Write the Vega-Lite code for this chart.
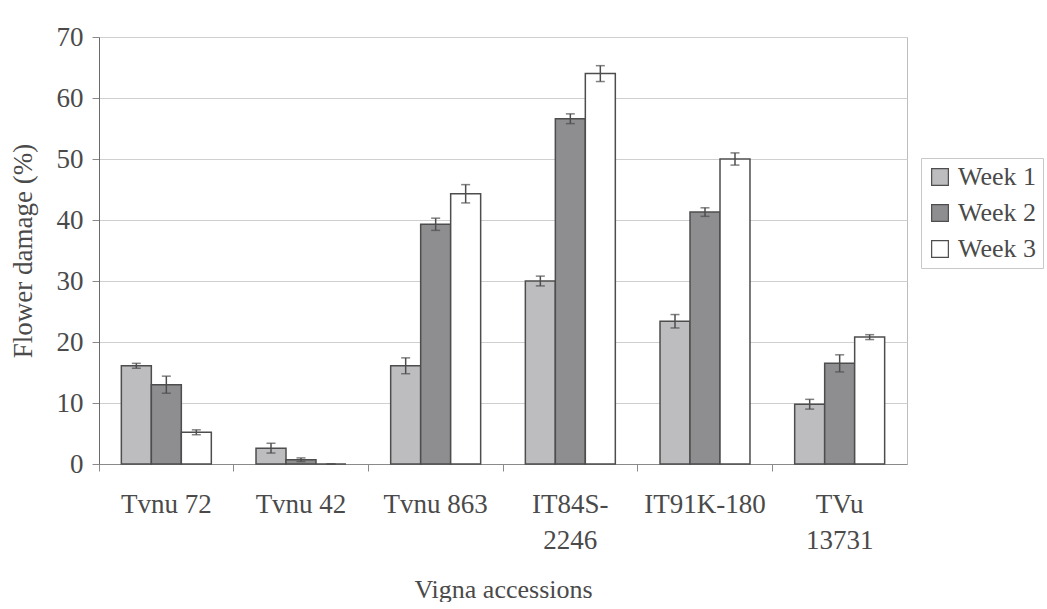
{
  "$schema": "https://vega.github.io/schema/vega-lite/v6.json",
  "width": 808,
  "height": 427,
  "padding": {"left": 9, "top": 23, "right": 2, "bottom": 0},
  "background": "white",
  "config": {
    "font": "Liberation Serif",
    "view": {"stroke": "#bdbdbd", "strokeWidth": 1},
    "axis": {"labelFont": "Liberation Serif", "titleFont": "Liberation Serif", "labelColor": "#4a4a4a", "titleColor": "#4a4a4a", "titleFontWeight": "normal"}
  },
  "data": {
    "values": [
      {"accession": "Tvnu 72", "week": "Week 1", "damage": 16.1, "lo": 15.7, "hi": 16.5},
      {"accession": "Tvnu 72", "week": "Week 2", "damage": 13.0, "lo": 11.6, "hi": 14.4},
      {"accession": "Tvnu 72", "week": "Week 3", "damage": 5.2, "lo": 4.8, "hi": 5.6},
      {"accession": "Tvnu 42", "week": "Week 1", "damage": 2.6, "lo": 1.8, "hi": 3.4},
      {"accession": "Tvnu 42", "week": "Week 2", "damage": 0.7, "lo": 0.4, "hi": 1.0},
      {"accession": "Tvnu 42", "week": "Week 3", "damage": 0.0, "lo": 0.0, "hi": 0.0},
      {"accession": "Tvnu 863", "week": "Week 1", "damage": 16.1, "lo": 14.8, "hi": 17.4},
      {"accession": "Tvnu 863", "week": "Week 2", "damage": 39.3, "lo": 38.3, "hi": 40.3},
      {"accession": "Tvnu 863", "week": "Week 3", "damage": 44.3, "lo": 42.8, "hi": 45.8},
      {"accession": "IT84S-2246", "week": "Week 1", "damage": 30.0, "lo": 29.2, "hi": 30.8},
      {"accession": "IT84S-2246", "week": "Week 2", "damage": 56.6, "lo": 55.8, "hi": 57.4},
      {"accession": "IT84S-2246", "week": "Week 3", "damage": 64.0, "lo": 62.7, "hi": 65.3},
      {"accession": "IT91K-180", "week": "Week 1", "damage": 23.4, "lo": 22.3, "hi": 24.5},
      {"accession": "IT91K-180", "week": "Week 2", "damage": 41.3, "lo": 40.6, "hi": 42.0},
      {"accession": "IT91K-180", "week": "Week 3", "damage": 50.0, "lo": 49.0, "hi": 51.0},
      {"accession": "TVu 13731", "week": "Week 1", "damage": 9.8, "lo": 9.0, "hi": 10.6},
      {"accession": "TVu 13731", "week": "Week 2", "damage": 16.5, "lo": 15.1, "hi": 17.9},
      {"accession": "TVu 13731", "week": "Week 3", "damage": 20.8, "lo": 20.4, "hi": 21.2}
    ]
  },
  "encoding": {
    "x": {
      "field": "accession",
      "type": "nominal",
      "sort": null,
      "scale": {"paddingInner": 0, "paddingOuter": 0},
      "axis": {
        "title": "Vigna accessions",
        "titleFontSize": 26,
        "titlePadding": 23,
        "labelFontSize": 27,
        "labelAngle": 0,
        "labelPadding": 20,
        "labelLineHeight": 36,
        "labelExpr": "datum.label == 'IT84S-2246' ? ['IT84S-', '2246'] : datum.label == 'TVu 13731' ? ['TVu', '13731'] : datum.label",
        "bandPosition": 0,
        "tickSize": 7,
        "tickColor": "#8a8a8a",
        "domainColor": "#8a8a8a",
        "grid": false
      }
    },
    "xOffset": {
      "field": "week",
      "type": "nominal",
      "sort": ["Week 1", "Week 2", "Week 3"],
      "scale": {"paddingInner": 0, "paddingOuter": 0.745}
    }
  },
  "layer": [
    {
      "mark": {"type": "bar", "stroke": "#4d4d4d", "strokeWidth": 1.5},
      "encoding": {
        "y": {
          "field": "damage",
          "type": "quantitative",
          "scale": {"domain": [0, 70], "nice": false},
          "axis": {
            "title": "Flower damage (%)",
            "titleFontSize": 27,
            "titlePadding": 19,
            "labelFontSize": 27,
            "labelPadding": 9,
            "labelOverlap": false,
            "values": [0, 10, 20, 30, 40, 50, 60, 70],
            "tickSize": 7,
            "tickColor": "#8a8a8a",
            "domainColor": "#6a6a6a",
            "gridColor": "#cfcfcf",
            "gridWidth": 1.2
          }
        },
        "fill": {
          "field": "week",
          "type": "nominal",
          "sort": ["Week 1", "Week 2", "Week 3"],
          "scale": {"range": ["#bdbdc0", "#8e8e90", "#ffffff"]},
          "legend": {
            "title": null,
            "orient": "none",
            "legendX": 822,
            "legendY": 121,
            "labelFont": "Liberation Serif",
            "labelFontSize": 26,
            "labelColor": "#4a4a4a",
            "symbolType": "square",
            "symbolSize": 280,
            "symbolStrokeColor": "#4d4d4d",
            "symbolStrokeWidth": 1.2,
            "rowPadding": 10,
            "labelOffset": 5,
            "strokeColor": "#c8c8c8",
            "padding": 6
          }
        }
      }
    },
    {
      "mark": {"type": "rule", "color": "#4d4d4d", "strokeWidth": 1.5},
      "encoding": {
        "y": {"field": "lo", "type": "quantitative"},
        "y2": {"field": "hi"}
      }
    },
    {
      "mark": {"type": "tick", "color": "#4d4d4d", "thickness": 1.5, "size": 9},
      "encoding": {
        "y": {"field": "lo", "type": "quantitative"}
      }
    },
    {
      "mark": {"type": "tick", "color": "#4d4d4d", "thickness": 1.5, "size": 9},
      "encoding": {
        "y": {"field": "hi", "type": "quantitative"}
      }
    }
  ]
}
